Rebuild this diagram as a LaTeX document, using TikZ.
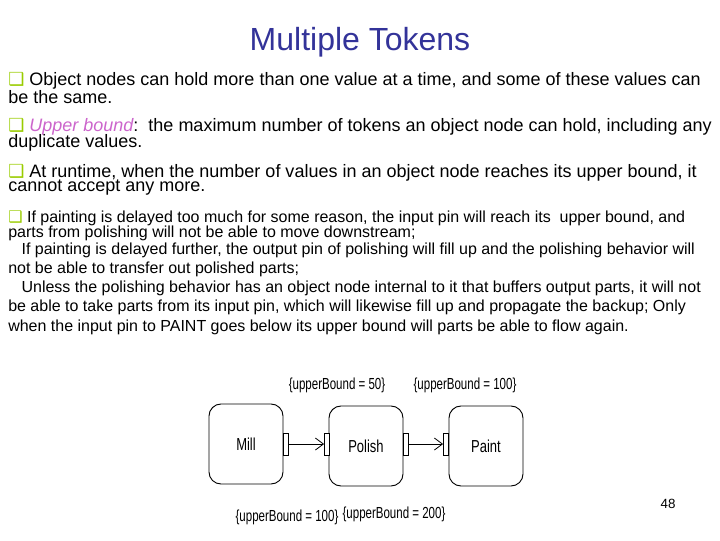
\documentclass[tikz,border=0pt]{standalone}
\usepackage{fontspec}
\setmainfont{Liberation Sans}
\newfontfamily\symfont{DejaVu Sans}
\usetikzlibrary{positioning,arrows.meta}
\definecolor{titleblue}{HTML}{333399}
\definecolor{boxgreen}{HTML}{99CC00}
\definecolor{boundpink}{HTML}{CC66CC}
\newcommand{\bul}{\textcolor{boxgreen}{\symfont ❑}}

\begin{document}
\begin{tikzpicture}[
    x=0.75pt, y=-0.75pt,
    every node/.style={inner sep=0pt},
    bigline/.style={anchor=west, font=\fontsize{13.5}{15}\selectfont},
    smallline/.style={anchor=west, font=\fontsize{12}{13}\selectfont},
    action/.style={draw, rounded corners=9pt, minimum width=55.5pt, minimum height=60pt,
        line width=0.7pt, font=\fontsize{13}{14}\selectfont\addfontfeature{FakeStretch=0.75}},
    pin/.style={draw, fill=white, minimum width=3.8pt, minimum height=16.5pt, line width=0.6pt},
    bound/.style={font=\fontsize{12}{13}\selectfont\addfontfeature{FakeStretch=0.72}},
    flow/.style={-{Straight Barb[length=6pt,width=9pt]}, line width=0.6pt},
]
\useasboundingbox (0,0) rectangle (720,540);

% === Title ===
\node[text=titleblue, font=\fontsize{24}{28}\selectfont] (title) at (360,42) {Multiple Tokens};

% === Large bullets ===
\node[bigline] (l1) at (8,81) {\bul\ Object nodes can hold more than one value at a time, and some of these values can};
\node[bigline] (l2) at (8,97) {be the same.};
\node[bigline] (l3) at (8,127) {\bul\ \textcolor{boundpink}{\itshape Upper bound}:\ \ the maximum number of tokens an object node can hold, including any};
\node[bigline] (l4) at (8,143) {duplicate values.};
\node[bigline] (l5) at (8,173) {\bul\ At runtime, when the number of values in an object node reaches its upper bound, it};
\node[bigline] (l6) at (8,188) {cannot accept any more.};

% === Small paragraph ===
\node[smallline] (s1) at (8,218) {\bul\ If painting is delayed too much for some reason, the input pin will reach its\ \ upper bound, and};
\node[smallline] (s2) at (8,233) {parts from polishing will not be able to move downstream;};
\node[smallline] (s3) at (8,250) {\ \ \ If painting is delayed further, the output pin of polishing will fill up and the polishing behavior will};
\node[smallline] (s4) at (8,269) {not be able to transfer out polished parts;};
\node[smallline] (s5) at (8,288) {\ \ \ Unless the polishing behavior has an object node internal to it that buffers output parts, it will not};
\node[smallline] (s6) at (8,307) {be able to take parts from its input pin, which will likewise fill up and propagate the backup; Only};
\node[smallline] (s7) at (8,327) {when the input pin to PAINT goes below its upper bound will parts be able to flow again.};

% === Actions ===
\node[action] (mill) at (246,444) {Mill};
\node[action] (polish) at (366,446) {Polish};
\node[action] (paint) at (486,446) {Paint};

% Pins
\node[pin] (millout) at (285.5,444) {};
\node[pin] (polishin) at (327,444) {};
\node[pin] (polishout) at (405.5,444) {};
\node[pin] (paintin) at (446,444) {};

\draw[flow] (millout) -- (polishin);
\draw[flow] (polishout) -- (paintin);

% Upper bounds
\node[bound] (b1) at (337,385) {\{upperBound = 50\}};
\node[bound] (b2) at (465,385) {\{upperBound = 100\}};
\node[bound] (b3) at (287,517) {\{upperBound = 100\}};
\node[bound] (b4) at (394,514) {\{upperBound = 200\}};

% Page number
\node[font=\fontsize{10}{12}\selectfont] (page) at (668,504) {48};
\end{tikzpicture}
\end{document}
